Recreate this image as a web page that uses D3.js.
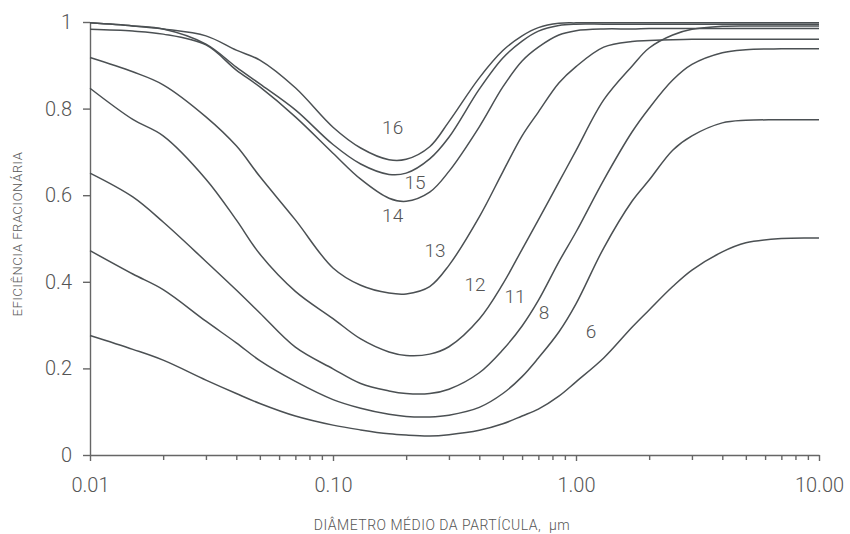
<!DOCTYPE html>
<html lang="pt">
<head>
    <meta charset="UTF-8" />
    <title>Eficiência fracionária</title>
    <script src="https://d3js.org/d3.v7.min.js"></script>
    <style>
        body { margin: 0; background: #fff; }
        svg text { font-family: Roboto, "Noto Sans", sans-serif; font-weight: 300; fill: #555; }
        .axis path, .axis line { stroke: #666; stroke-width: 1.4; }
        .curve { fill: none; stroke: #4b5053; stroke-width: 1.5; }
    </style>
</head>
<body>
    <div id="chart"></div>
    <script>
// particle diameter (um), shared by every curve
var diameters = [0.01, 0.015, 0.02, 0.03, 0.04, 0.05, 0.07, 0.1, 0.13, 0.17, 0.2, 0.25, 0.3, 0.4,
                 0.5, 0.6, 0.7, 0.85, 1, 1.3, 1.7, 2, 2.5, 3, 4, 5, 7, 10];

// fractional efficiency for each curve
var eff16 = [0.998, 0.991, 0.984, 0.968, 0.935, 0.912, 0.848, 0.757, 0.709, 0.682, 0.683, 0.712, 0.770, 0.871,
             0.934, 0.968, 0.987, 0.997, 0.998, 0.998, 0.998, 0.998, 0.998, 0.998, 0.998, 0.998, 0.998, 0.998];
var eff15 = [0.998, 0.991, 0.984, 0.949, 0.896, 0.857, 0.797, 0.717, 0.672, 0.648, 0.651, 0.684, 0.734, 0.845,
             0.917, 0.956, 0.979, 0.992, 0.995, 0.995, 0.995, 0.995, 0.995, 0.995, 0.995, 0.995, 0.995, 0.995];
var eff14 = [0.983, 0.979, 0.972, 0.947, 0.889, 0.850, 0.781, 0.697, 0.637, 0.593, 0.586, 0.607, 0.655, 0.758,
             0.850, 0.910, 0.942, 0.970, 0.980, 0.984, 0.984, 0.985, 0.985, 0.985, 0.985, 0.985, 0.985, 0.985];
var eff13 = [0.918, 0.885, 0.855, 0.781, 0.714, 0.643, 0.543, 0.432, 0.392, 0.374, 0.372, 0.389, 0.438, 0.550,
             0.654, 0.737, 0.792, 0.859, 0.897, 0.942, 0.955, 0.957, 0.959, 0.960, 0.960, 0.960, 0.960, 0.960];
var eff12 = [0.847, 0.775, 0.737, 0.637, 0.543, 0.464, 0.378, 0.315, 0.268, 0.238, 0.230, 0.233, 0.250, 0.314,
             0.395, 0.475, 0.543, 0.630, 0.703, 0.820, 0.898, 0.940, 0.970, 0.983, 0.990, 0.991, 0.991, 0.991];
var eff11 = [0.651, 0.596, 0.538, 0.447, 0.381, 0.328, 0.249, 0.199, 0.165, 0.148, 0.142, 0.142, 0.152, 0.190,
             0.243, 0.298, 0.357, 0.446, 0.515, 0.635, 0.746, 0.801, 0.866, 0.902, 0.929, 0.936, 0.938, 0.938];
var eff8  = [0.472, 0.418, 0.382, 0.309, 0.259, 0.218, 0.170, 0.128, 0.108, 0.094, 0.089, 0.088, 0.092, 0.110,
             0.142, 0.181, 0.224, 0.284, 0.349, 0.478, 0.586, 0.635, 0.704, 0.737, 0.767, 0.773, 0.774, 0.774];
var eff6  = [0.276, 0.244, 0.219, 0.173, 0.142, 0.119, 0.090, 0.069, 0.058, 0.049, 0.046, 0.044, 0.047, 0.057,
             0.072, 0.090, 0.106, 0.136, 0.169, 0.224, 0.295, 0.335, 0.389, 0.427, 0.469, 0.490, 0.500, 0.501];

var curveNames = ["16", "15", "14", "13", "12", "11", "8", "6"];
var curveValues = [eff16, eff15, eff14, eff13, eff12, eff11, eff8, eff6];

// where each curve number is written (diameter, efficiency)
var labelDiam = [0.176, 0.2175, 0.176, 0.263, 0.384, 0.561, 0.738, 1.153];
var labelEff  = [0.756, 0.629, 0.554, 0.473, 0.393, 0.367, 0.328, 0.286];

var xTicks = [0.01, 0.1, 1, 10];
var yTicks = [0, 0.2, 0.4, 0.6, 0.8, 1];

var width = 850, height = 534;
var margin = {top: 22, right: 31, bottom: 79, left: 90};

var svg = d3.select("#chart").append("svg")
    .attr("width", width)
    .attr("height", height);

var x = d3.scaleLog().domain([0.01, 10]).range([margin.left, width - margin.right]);
var y = d3.scaleLinear().domain([0, 1]).range([height - margin.bottom, margin.top]);

// minor ticks 2..9 in every decade
var minorTicks = [];
[0.01, 0.1, 1].forEach(function(d) {
    for (var k = 2; k <= 9; k++) minorTicks.push(d * k);
});

svg.append("g")
    .attr("class", "axis")
    .attr("transform", "translate(0," + y(0) + ")")
    .call(d3.axisBottom(x).tickValues(minorTicks).tickSize(5).tickFormat(""))
    .call(function(g) { g.select(".domain").remove(); });

var xAxis = svg.append("g")
    .attr("class", "axis")
    .attr("transform", "translate(0," + y(0) + ")")
    .call(d3.axisBottom(x).tickValues(xTicks).tickSize(6).tickSizeOuter(0)
        .tickPadding(17).tickFormat(d3.format(".2f")));
xAxis.selectAll("text").style("font-size", "20px").style("fill", "#555");

var yAxis = svg.append("g")
    .attr("class", "axis")
    .attr("transform", "translate(" + x(0.01) + ",0)")
    .call(d3.axisLeft(y).tickValues(yTicks).tickSize(7).tickSizeOuter(0)
        .tickPadding(11).tickFormat(function(d) { return d === 0 || d === 1 ? d : d.toFixed(1); }));
yAxis.selectAll("text").style("font-size", "20px").style("fill", "#555");

// curves
var line = d3.line()
    .x(function(d, i) { return x(diameters[i]); })
    .y(function(d) { return y(d); })
    .curve(d3.curveCatmullRom.alpha(0.5));

svg.selectAll("path.curve")
    .data(curveValues)
    .enter()
    .append("path")
    .attr("class", "curve")
    .attr("d", line);

// curve numbers
svg.selectAll("text.curve-label")
    .data(curveNames)
    .enter()
    .append("text")
    .attr("class", "curve-label")
    .attr("x", function(d, i) { return x(labelDiam[i]); })
    .attr("y", function(d, i) { return y(labelEff[i]); })
    .attr("text-anchor", "middle")
    .attr("dominant-baseline", "central")
    .style("font-size", "19px")
    .text(function(d) { return d; });

// axis titles
svg.append("text")
    .attr("transform", "translate(17," + 234 + ") rotate(-90)")
    .attr("text-anchor", "middle")
    .attr("dominant-baseline", "central")
    .style("font-size", "13px")
    .style("letter-spacing", "0.6px")
    .text("EFICIÊNCIA FRACIONÁRIA");

svg.append("text")
    .attr("x", 442)
    .attr("y", 525)
    .attr("text-anchor", "middle")
    .attr("dominant-baseline", "central")
    .style("font-size", "14px")
    .style("letter-spacing", "0.5px")
    .style("white-space", "pre")
    .text("DIÂMETRO MÉDIO DA PARTÍCULA,  µm");
    </script>
</body>
</html>
